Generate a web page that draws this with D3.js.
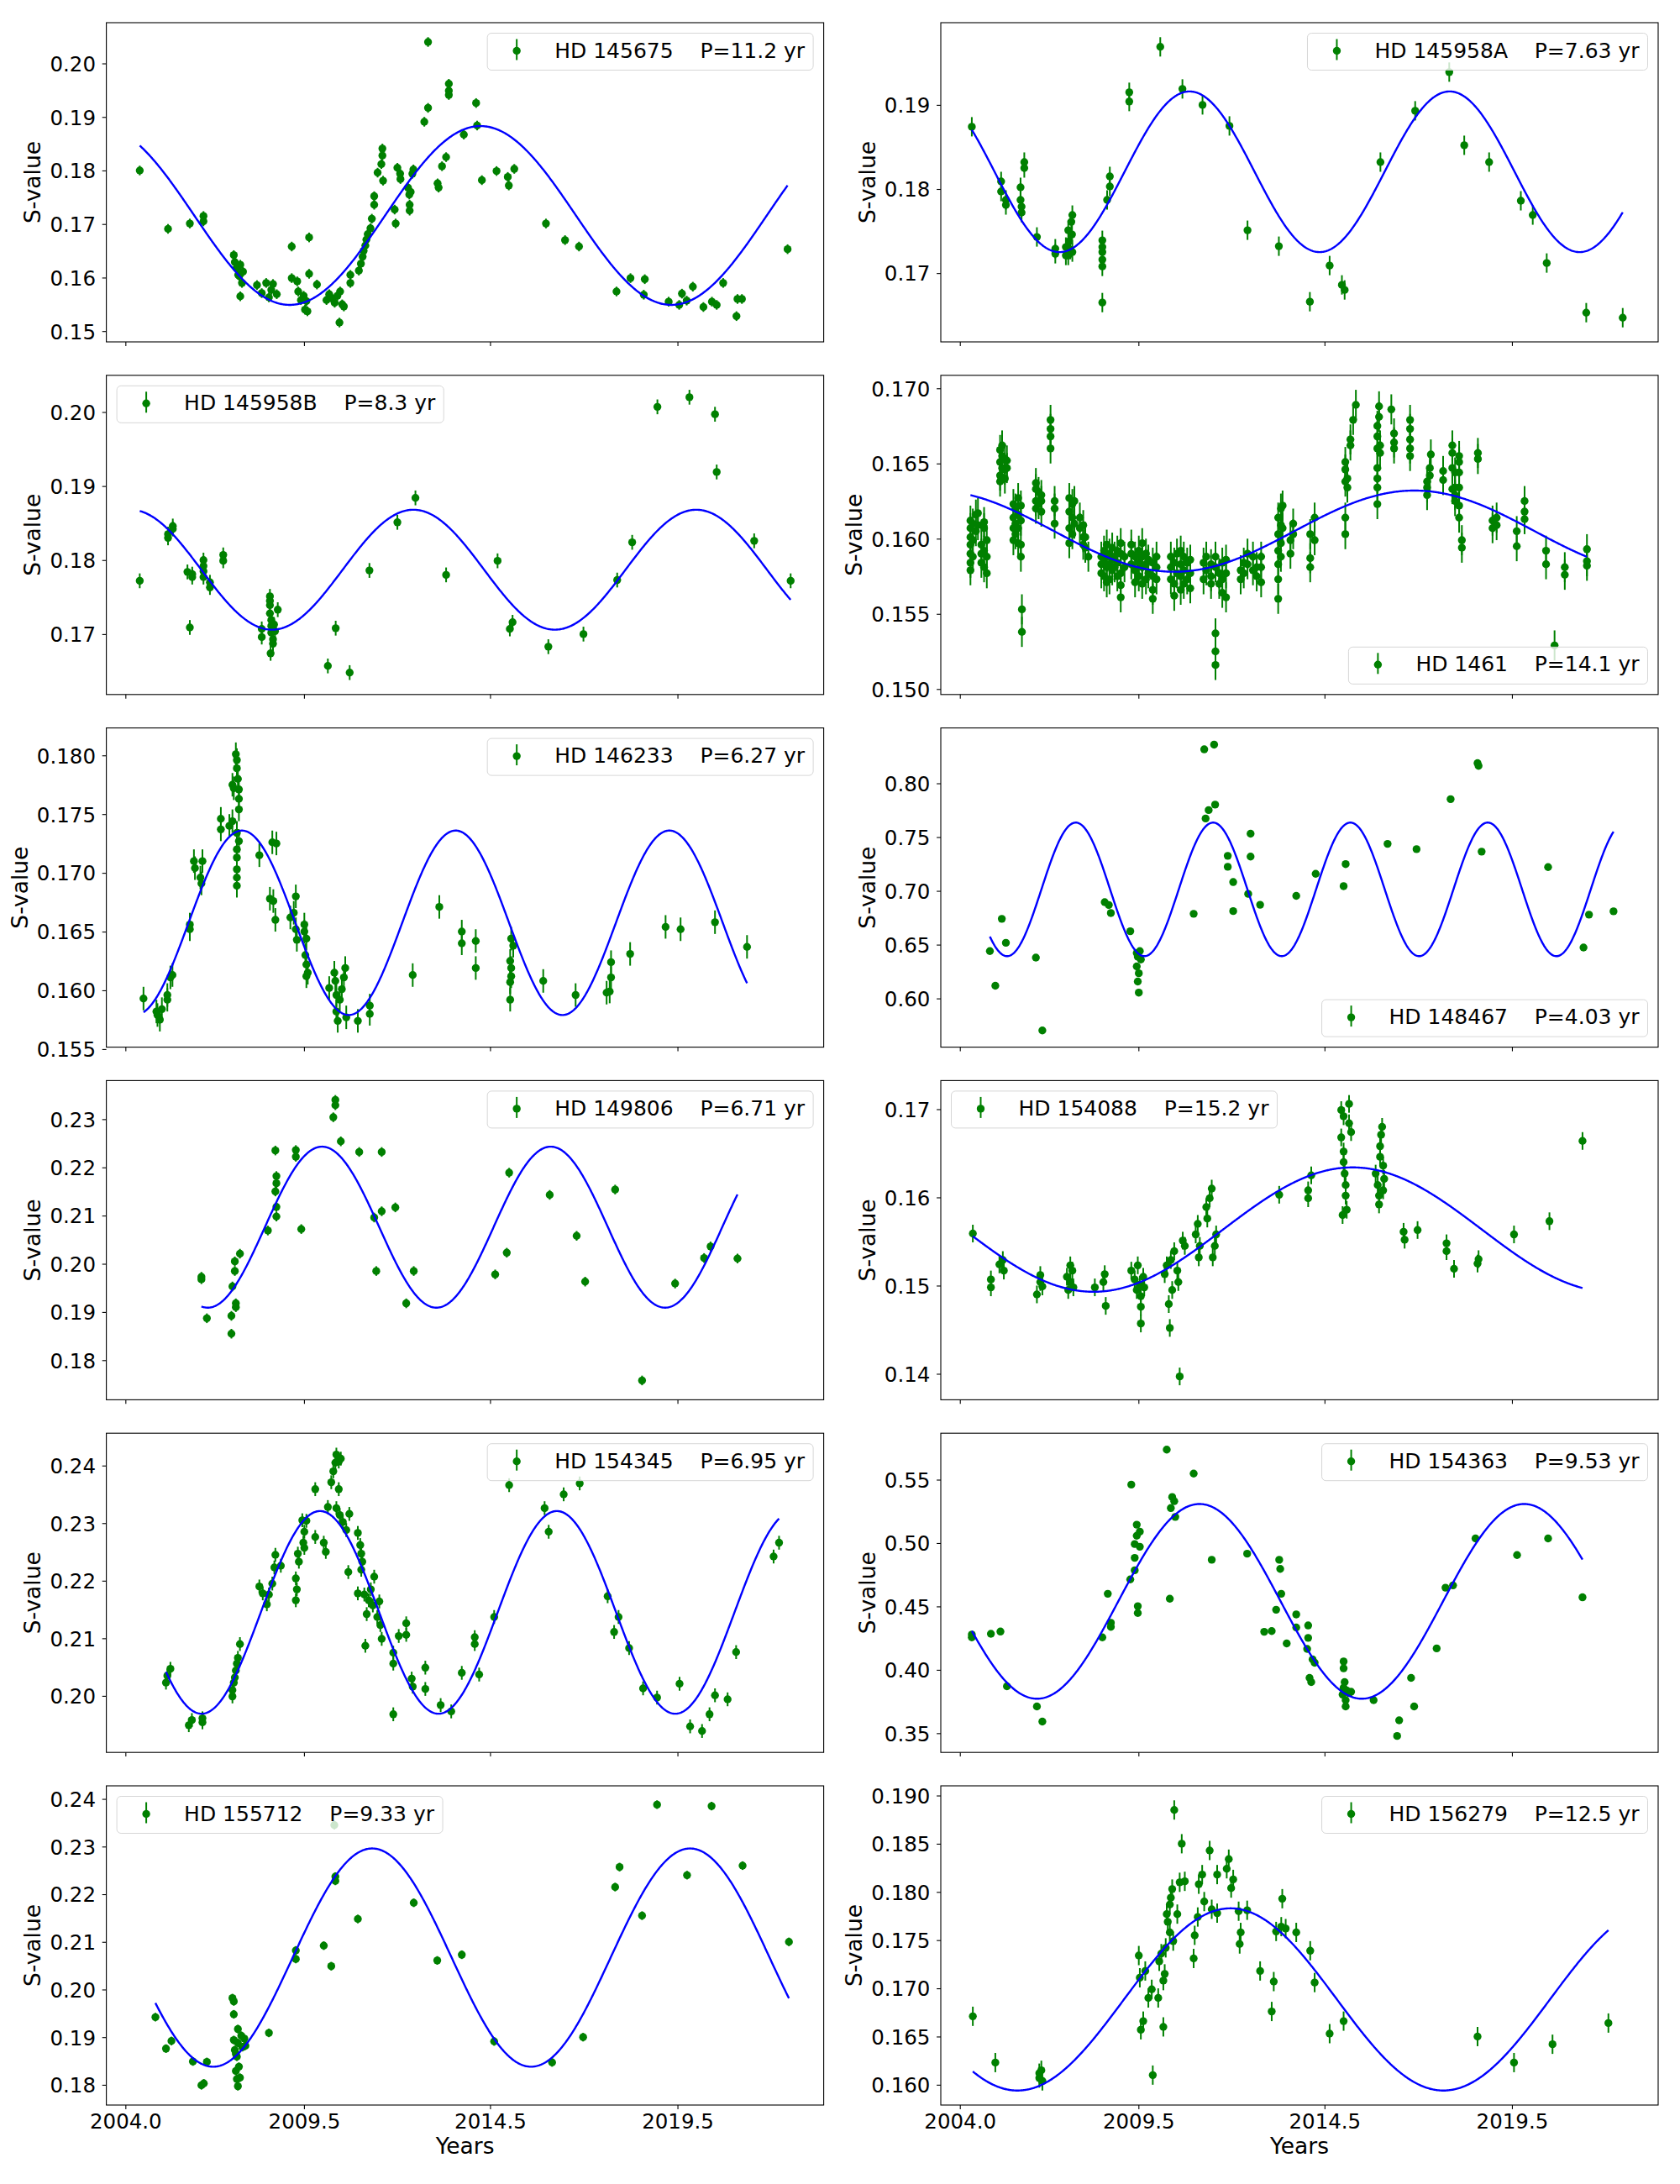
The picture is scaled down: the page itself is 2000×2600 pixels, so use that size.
<!DOCTYPE html>
<html>
<head>
<meta charset="utf-8">
<script src="https://cdn.jsdelivr.net/npm/d3@7"></script>
<style>
  body { margin: 0; background: #fff; }
  text { font-family: "DejaVu Sans", sans-serif; }
</style>
</head>
<body>
<div id="chart"></div>
<script>
// ---- data ----
const stars = ["HD 145675", "HD 145958A", "HD 145958B", "HD 1461", "HD 146233", "HD 148467",
               "HD 149806", "HD 154088", "HD 154345", "HD 154363", "HD 155712", "HD 156279"];
const periods = ["11.2", "7.63", "8.3", "14.1", "6.27", "4.03", "6.71", "15.2", "6.95", "9.53", "9.33", "12.5"];
// sine fit: mean level, semi-amplitude, epoch of maximum
const fitMean = [0.1716, 0.18205, 0.1787, 0.1605, 0.16575, 0.7014, 0.2076, 0.15635, 0.2145, 0.454, 0.2067, 0.16885];
const fitAmp = [0.0167, 0.00955, 0.0081, 0.0027, 0.00785, 0.0621, 0.0167, 0.00705, 0.0176, 0.0768, 0.0229, 0.00945];
const fitPeak = [2014.68, 2011.0, 2012.71, 2017.6, 2013.95, 2015.72, 2016.74, 2015.78, 2016.92, 2011.29, 2011.5, 2012.2];
const sErr = [0.0009, 0.00115, 0.001, 0.001, 0.001, 0.002, 0.001, 0.001, 0.0012, 0.0015, 0.0009, 0.001];
const legendLoc = ["upper right", "upper right", "upper left", "lower right", "upper right", "lower right",
                   "upper right", "upper left", "upper right", "upper right", "upper left", "upper right"];
const yTicks = [
  ["0.15", "0.16", "0.17", "0.18", "0.19", "0.20"],
  ["0.17", "0.18", "0.19"],
  ["0.17", "0.18", "0.19", "0.20"],
  ["0.150", "0.155", "0.160", "0.165", "0.170"],
  ["0.155", "0.160", "0.165", "0.170", "0.175", "0.180"],
  ["0.60", "0.65", "0.70", "0.75", "0.80"],
  ["0.18", "0.19", "0.20", "0.21", "0.22", "0.23"],
  ["0.14", "0.15", "0.16", "0.17"],
  ["0.20", "0.21", "0.22", "0.23", "0.24"],
  ["0.35", "0.40", "0.45", "0.50", "0.55"],
  ["0.18", "0.19", "0.20", "0.21", "0.22", "0.23", "0.24"],
  ["0.160", "0.165", "0.170", "0.175", "0.180", "0.185", "0.190"]
];
const xTickYears = [2004.26, 2009.5, 2014.96, 2020.46];
const xTickLabels = ["2004.0", "2009.5", "2014.5", "2019.5"];
const xLimits = [2003.7, 2024.75];

// [year, S-value]
const hd145675 = [[2004.68,.1800],[2005.51,.1691],[2006.15,.1701],[2006.55,.1715],[2006.55,.1705],[2007.44,.1642],
  [2007.47,.1629],[2007.52,.1618],[2007.57,.1605],[2007.63,.1624],[2007.68,.1590],[2007.63,.1565],[2007.60,.1603],
  [2007.71,.1611],[2008.12,.1586],[2008.26,.1571],[2008.39,.1590],[2008.47,.1563],[2008.59,.1588],[2008.70,.1569],
  [2008.54,.1577],[2009.14,.1658],[2009.14,.1599],[2009.30,.1593],[2009.33,.1574],[2009.41,.1558],[2009.49,.1566],
  [2009.53,.1540],[2009.60,.1537],[2009.57,.1556],[2009.65,.1675],[2009.65,.1607],[2009.88,.1587],[2010.16,.1558],
  [2010.24,.1569],[2010.32,.1561],[2010.40,.1553],[2010.48,.1566],[2010.56,.1574],[2010.62,.1550],[2010.67,.1546],
  [2010.54,.1516],[2010.86,.1605],[2010.86,.1590],[2011.11,.1613],[2011.17,.1626],[2011.22,.1639],[2011.25,.1650],
  [2011.30,.1660],[2011.33,.1671],[2011.37,.1681],[2011.45,.1692],[2011.49,.1710],[2011.56,.1736],[2011.56,.1752],
  [2011.66,.1796],[2011.77,.1812],[2011.80,.1828],[2011.80,.1841],[2011.82,.1781],[2012.16,.1727],[2012.19,.1701],
  [2012.24,.1805],[2012.32,.1794],[2012.33,.1784],[2012.55,.1768],[2012.59,.1755],[2012.60,.1736],[2012.60,.1725],
  [2012.63,.1760],[2012.68,.1794],[2012.71,.1802],[2013.03,.1891],[2013.14,.1917],[2013.14,.2040],[2013.42,.1776],
  [2013.45,.1768],[2013.55,.1808],[2013.67,.1825],[2013.75,.1962],[2013.75,.1949],[2013.75,.1941],[2014.19,.1867],
  [2014.55,.1926],[2014.58,.1884],[2014.72,.1782],[2015.15,.1799],[2015.48,.1788],[2015.51,.1772],[2015.67,.1803],
  [2016.60,.1701],[2017.16,.1670],[2017.57,.1658],[2018.67,.1574],[2019.08,.1599],[2019.47,.1568],[2019.50,.1597],
  [2020.20,.1555],[2020.51,.1549],[2020.59,.1570],[2020.73,.1557],[2020.91,.1583],[2021.22,.1545],[2021.47,.1555],
  [2021.61,.1549],[2021.80,.1590],[2022.19,.1528],[2022.22,.1560],[2022.35,.1560],[2023.69,.1653]];

const hd145958A = [[2004.61,.1874],[2005.47,.1809],[2005.47,.1797],[2005.61,.1787],[2005.61,.1781],[2006.04,.1802],
  [2006.04,.1787],[2006.07,.1779],[2006.07,.1772],[2006.15,.1832],[2006.15,.1825],[2006.52,.1743],[2007.06,.1729],
  [2007.06,.1723],[2007.37,.1731],[2007.37,.1721],[2007.44,.1751],[2007.47,.1738],[2007.50,.1728],[2007.53,.1761],
  [2007.55,.1746],[2007.56,.1769],[2007.56,.1725],[2007.44,.1721],[2008.44,.1739],[2008.44,.1731],[2008.44,.1725],
  [2008.44,.1716],[2008.44,.1708],[2008.44,.1665],[2008.58,.1787],[2008.66,.1815],[2008.66,.1803],[2009.23,.1915],
  [2009.23,.1904],[2010.14,.1969],[2010.79,.1919],[2011.38,.1900],[2012.17,.1875],[2012.70,.1751],[2013.62,.1732],
  [2014.53,.1666],[2015.11,.1709],[2015.47,.1686],[2015.55,.1680],[2016.60,.1832],[2017.62,.1893],[2018.62,.1939],
  [2019.06,.1852],[2019.79,.1832],[2020.72,.1786],[2021.07,.1769],[2021.48,.1712],[2022.64,.1653],[2023.71,.1647]];

const hd145958B = [[2004.68,.1772],[2005.51,.1835],[2005.51,.1830],[2005.65,.1846],[2005.65,.1842],[2006.08,.1784],
  [2006.15,.1709],[2006.22,.1781],[2006.22,.1777],[2006.55,.1800],[2006.55,.1792],[2006.55,.1785],[2006.55,.1777],
  [2006.74,.1770],[2006.74,.1763],[2007.13,.1807],[2007.13,.1799],[2008.26,.1707],[2008.26,.1696],[2008.50,.1751],
  [2008.50,.1745],[2008.50,.1739],[2008.50,.1728],[2008.52,.1674],[2008.54,.1719],[2008.54,.1711],[2008.54,.1702],
  [2008.59,.1693],[2008.59,.1687],[2008.62,.1713],[2008.65,.1704],[2008.73,.1733],[2010.20,.1657],[2010.43,.1708],
  [2010.84,.1648],[2011.42,.1786],[2012.24,.1851],[2012.77,.1884],[2013.67,.1780],[2015.18,.1799],[2015.54,.1707],
  [2015.62,.1716],[2016.67,.1683],[2017.70,.1700],[2018.69,.1773],[2019.13,.1824],[2019.87,.2007],[2020.81,.2020],
  [2021.56,.1997],[2021.61,.1919],[2022.71,.1826],[2023.78,.1772]];

const hd1461 = [
  [2004.57,.1612],[2004.57,.1607],[2004.57,.1601],[2004.57,.1596],[2004.57,.1590],[2004.57,.1584],[2004.57,.1579],
  [2004.64,.1610],[2004.64,.1599],[2004.64,.1588],[2004.73,.1616],[2004.73,.1605],[2004.79,.1617],[2004.79,.1609],
  [2004.89,.1596],[2004.89,.1590],[2004.89,.1584],[2004.97,.1611],[2004.97,.1607],[2004.97,.1592],[2004.97,.1581],
  [2005.05,.1599],[2005.05,.1588],[2005.05,.1577],
  [2005.44,.1659],[2005.44,.1651],[2005.44,.1642],[2005.44,.1638],[2005.50,.1662],[2005.50,.1655],[2005.50,.1647],
  [2005.58,.1653],[2005.58,.1646],[2005.58,.1640],[2005.64,.1652],[2005.64,.1647],
  [2005.83,.1623],[2005.83,.1614],[2005.83,.1607],[2005.83,.1599],[2005.89,.1620],[2005.89,.1610],[2005.89,.1603],
  [2005.97,.1627],[2005.97,.1616],[2005.97,.1607],[2005.97,.1597],[2006.05,.1622],[2006.05,.1612],[2006.05,.1596],
  [2006.05,.1588],[2006.08,.1553],[2006.08,.1538],
  [2006.49,.1637],[2006.49,.1633],[2006.49,.1625],[2006.49,.1620],[2006.57,.1631],[2006.57,.1623],[2006.65,.1629],
  [2006.65,.1625],[2006.65,.1618],[2006.92,.1679],[2006.92,.1673],[2006.92,.1668],[2006.92,.1660],[2007.04,.1625],
  [2007.04,.1620],[2007.04,.1610],
  [2007.47,.1627],[2007.47,.1618],[2007.47,.1607],[2007.47,.1597],[2007.56,.1623],[2007.56,.1614],[2007.56,.1603],
  [2007.62,.1625],[2007.62,.1610],[2007.78,.1614],[2007.78,.1607],[2007.88,.1609],[2007.88,.1601],[2007.88,.1596],
  [2007.94,.1601],[2007.94,.1594],[2008.03,.1588],
  [2008.41,.1588],[2008.41,.1583],[2008.41,.1577],[2008.49,.1592],[2008.49,.1584],[2008.49,.1575],[2008.57,.1596],
  [2008.57,.1588],[2008.57,.1581],[2008.57,.1571],[2008.65,.1590],[2008.65,.1583],[2008.65,.1573],[2008.73,.1594],
  [2008.73,.1586],[2008.73,.1579],[2008.80,.1588],[2008.80,.1581],[2008.88,.1592],[2008.88,.1584],[2008.88,.1575],
  [2008.98,.1597],[2008.98,.1590],[2008.98,.1577],[2008.98,.1569],[2008.98,.1561],[2009.09,.1588],[2009.09,.1581],
  [2009.29,.1596],[2009.29,.1590],[2009.29,.1583],[2009.40,.1588],[2009.40,.1579],[2009.40,.1571],[2009.51,.1592],
  [2009.51,.1584],[2009.51,.1575],[2009.61,.1597],[2009.61,.1588],[2009.61,.1581],[2009.61,.1570],[2009.72,.1590],
  [2009.72,.1583],[2009.72,.1573],[2009.79,.1586],[2009.79,.1577],[2009.92,.1584],[2009.92,.1575],[2009.92,.1566],
  [2009.92,.1560],[2010.03,.1588],[2010.03,.1581],[2010.03,.1573],
  [2010.45,.1588],[2010.45,.1581],[2010.45,.1573],[2010.55,.1584],[2010.55,.1570],[2010.55,.1562],[2010.63,.1590],
  [2010.63,.1577],[2010.74,.1592],[2010.74,.1583],[2010.74,.1575],[2010.74,.1566],[2010.83,.1588],[2010.83,.1579],
  [2010.83,.1570],[2010.93,.1584],[2010.93,.1573],[2011.02,.1586],[2011.02,.1577],[2011.02,.1567],
  [2011.41,.1584],[2011.41,.1573],[2011.49,.1588],[2011.49,.1579],[2011.63,.1583],[2011.63,.1575],[2011.63,.1570],
  [2011.76,.1588],[2011.76,.1581],[2011.76,.1537],[2011.76,.1525],[2011.76,.1516],[2011.87,.1577],[2011.87,.1570],
  [2011.96,.1584],[2011.96,.1573],[2011.96,.1564],[2012.07,.1586],[2012.07,.1577],[2012.07,.1561],
  [2012.50,.1579],[2012.50,.1573],[2012.59,.1584],[2012.59,.1577],[2012.70,.1590],[2012.70,.1583],[2012.86,.1588],
  [2012.86,.1579],[2012.97,.1581],[2012.97,.1575],[2013.10,.1588],[2013.10,.1581],[2013.10,.1571],
  [2013.60,.1614],[2013.60,.1603],[2013.60,.1592],[2013.60,.1583],[2013.60,.1573],[2013.60,.1560],[2013.68,.1620],
  [2013.68,.1609],[2013.68,.1597],[2013.68,.1588],[2013.73,.1622],[2013.73,.1607],[2013.96,.1599],[2013.96,.1590],
  [2014.04,.1610],[2014.04,.1603],[2014.54,.1603],[2014.54,.1587],[2014.54,.1581],[2014.67,.1614],[2014.67,.1599],
  [2015.57,.1651],[2015.57,.1646],[2015.57,.1638],[2015.57,.1614],[2015.57,.1603],[2015.63,.1640],[2015.63,.1634],
  [2015.72,.1666],[2015.72,.1662],[2015.80,.1679],[2015.88,.1689],
  [2016.51,.1675],[2016.51,.1668],[2016.51,.1660],[2016.51,.1647],[2016.51,.1640],[2016.51,.1634],[2016.51,.1623],
  [2016.56,.1688],[2016.56,.1681],[2016.59,.1662],[2016.59,.1657],[2016.92,.1686],[2017.00,.1670],[2017.00,.1664],
  [2017.00,.1660],[2017.47,.1679],[2017.47,.1673],[2017.47,.1666],[2017.47,.1660],[2017.47,.1655],[2017.97,.1638],
  [2017.97,.1634],[2017.97,.1629],[2018.05,.1647],[2018.05,.1642],[2018.08,.1656],[2018.44,.1645],[2018.44,.1639],
  [2018.71,.1662],[2018.71,.1657],[2018.71,.1647],[2018.71,.1633],[2018.79,.1644],[2018.79,.1634],[2018.79,.1629],
  [2018.79,.1625],[2018.91,.1655],[2018.91,.1651],[2018.91,.1644],[2018.91,.1634],[2018.91,.1622],[2018.91,.1614],
  [2018.99,.1599],[2018.99,.1594],[2019.46,.1657],[2019.46,.1653],[2019.89,.1612],[2019.89,.1607],[2020.01,.1614],
  [2020.01,.1609],[2020.60,.1605],[2020.60,.1595],[2020.83,.1625],[2020.83,.1618],[2020.83,.1613],[2021.46,.1592],
  [2021.46,.1583],[2021.71,.1529],[2022.01,.1581],[2022.01,.1576],[2022.66,.1593],[2022.66,.1585],[2022.66,.1582]];

const hd146233 = [[2004.79,.1593],[2005.17,.1582],[2005.20,.1579],[2005.27,.1575],[2005.33,.1584],[2005.49,.1596],
  [2005.49,.1592],[2005.58,.1611],[2005.64,.1613],[2006.15,.1656],[2006.15,.1652],[2006.27,.1710],[2006.30,.1704],
  [2006.46,.1696],[2006.49,.1691],[2006.52,.1710],[2007.06,.1746],[2007.06,.1737],[2007.31,.1740],[2007.40,.1775],
  [2007.40,.1744],[2007.44,.1772],[2007.50,.1801],[2007.53,.1796],[2007.53,.1789],[2007.56,.1780],[2007.53,.1734],
  [2007.53,.1720],[2007.53,.1713],[2007.53,.1703],[2007.53,.1696],[2007.53,.1689],[2007.59,.1771],[2007.59,.1763],
  [2007.59,.1754],[2007.59,.1727],[2008.19,.1715],[2008.57,.1726],[2008.69,.1725],[2008.50,.1678],[2008.60,.1676],
  [2008.66,.1660],[2009.10,.1662],[2009.20,.1666],[2009.26,.1680],[2009.26,.1652],[2009.29,.1643],[2009.51,.1656],
  [2009.51,.1650],[2009.57,.1644],[2009.54,.1630],[2009.57,.1622],[2009.61,.1615],[2009.57,.1612],[2010.24,.1602],
  [2010.39,.1615],[2010.42,.1608],[2010.45,.1596],[2010.45,.1582],[2010.49,.1574],[2010.55,.1592],[2010.61,.1601],
  [2010.67,.1611],[2010.71,.1619],[2010.74,.1577],[2011.08,.1574],[2011.43,.1587],[2011.43,.1580],[2012.69,.1613],
  [2013.47,.1671],[2014.13,.1650],[2014.13,.1640],[2014.54,.1642],[2014.54,.1619],[2015.58,.1644],[2015.64,.1638],
  [2015.55,.1625],[2015.58,.1619],[2015.58,.1612],[2015.55,.1607],[2015.55,.1592],[2016.52,.1608],[2017.47,.1596],
  [2018.38,.1598],[2018.47,.1599],[2018.51,.1611],[2018.51,.1624],[2019.07,.1631],[2020.11,.1654],[2020.55,.1652],
  [2021.56,.1658],[2022.50,.1637]];

const hd148467 = [[2005.14,.6440],[2005.30,.6118],[2005.49,.6740],[2005.61,.6517],[2006.49,.6380],[2006.68,.5702],
  [2008.51,.6895],[2008.63,.6869],[2008.69,.6794],[2009.26,.6625],[2009.45,.6422],[2009.48,.6388],[2009.54,.6440],
  [2009.45,.6298],[2009.51,.6234],[2009.48,.6157],[2009.51,.6054],[2009.57,.6362],[2011.12,.6787],[2011.43,.8316],
  [2011.72,.8360],[2011.47,.7673],[2011.56,.7751],[2011.75,.7802],[2012.12,.7326],[2012.12,.7224],[2012.28,.7082],
  [2012.28,.6812],[2012.72,.6972],[2012.79,.7532],[2012.79,.7319],[2013.07,.6871],[2014.13,.6954],[2014.70,.7159],
  [2015.52,.7044],[2015.58,.7249],[2016.81,.7437],[2017.66,.7388],[2018.66,.7853],[2019.45,.8188],[2019.48,.8162],
  [2019.57,.7365],[2021.52,.7221],[2022.56,.6473],[2022.72,.6779],[2023.44,.6810]];

const hd149806 = [[2006.49,.1973],[2006.49,.1968],[2006.65,.1887],[2007.37,.1855],[2007.37,.1892],[2007.40,.1953],
  [2007.47,.1985],[2007.47,.2005],[2007.50,.1918],[2007.50,.1910],[2007.62,.2021],[2008.44,.2069],[2008.66,.2235],
  [2008.66,.2150],[2008.69,.2167],[2008.69,.2182],[2008.69,.2118],[2008.69,.2098],[2009.26,.2236],[2009.26,.2222],
  [2009.42,.2072],[2010.36,.2304],[2010.42,.2340],[2010.42,.2329],[2010.58,.2254],[2011.12,.2232],[2011.56,.2096],
  [2011.62,.1985],[2011.78,.2232],[2011.78,.2109],[2012.18,.2117],[2012.50,.1918],[2012.72,.1985],[2015.11,.1978],
  [2015.45,.2023],[2015.52,.2189],[2016.71,.2143],[2017.50,.2058],[2017.75,.1963],[2018.63,.2154],[2019.42,.1758],
  [2020.39,.1959],[2021.24,.2012],[2021.43,.2036],[2022.22,.2011]];

const hd154088 = [[2004.64,.1559],[2005.17,.1507],[2005.17,.1498],[2005.42,.1524],[2005.52,.1529],[2005.55,.1517],
  [2006.52,.1490],[2006.62,.1512],[2006.62,.1504],[2006.68,.1499],[2007.40,.1510],[2007.50,.1523],[2007.50,.1504],
  [2007.56,.1517],[2007.59,.1498],[2007.44,.1495],[2008.22,.1498],[2008.51,.1513],[2008.54,.1477],[2008.47,.1504],
  [2009.29,.1517],[2009.39,.1507],[2009.45,.1495],[2009.48,.1523],[2009.54,.1501],[2009.57,.1488],[2009.57,.1476],
  [2009.64,.1510],[2009.67,.1498],[2009.57,.1457],[2010.27,.1513],[2010.33,.1523],[2010.39,.1479],[2010.42,.1452],
  [2010.45,.1529],[2010.49,.1495],[2010.55,.1539],[2010.64,.1517],[2010.67,.1504],[2010.71,.1397],[2010.80,.1551],
  [2010.86,.1545],[2011.18,.1558],[2011.24,.1570],[2011.30,.1545],[2011.27,.1532],[2011.49,.1589],[2011.52,.1576],
  [2011.59,.1599],[2011.65,.1610],[2011.68,.1532],[2011.74,.1545],[2011.78,.1558],[2013.63,.1603],[2014.48,.1599],
  [2014.48,.1608],[2014.57,.1625],[2015.45,.1699],[2015.52,.1692],[2015.45,.1668],[2015.52,.1652],[2015.52,.1640],
  [2015.55,.1627],[2015.58,.1614],[2015.58,.1602],[2015.61,.1586],[2015.49,.1580],[2015.68,.1706],[2015.68,.1684],
  [2015.74,.1674],[2016.46,.1627],[2016.52,.1614],[2016.56,.1602],[2016.59,.1658],[2016.59,.1646],[2016.62,.1671],
  [2016.65,.1680],[2016.68,.1636],[2016.68,.1608],[2016.71,.1621],[2016.56,.1592],[2017.28,.1561],[2017.31,.1552],
  [2017.69,.1563],[2018.54,.1548],[2018.54,.1539],[2018.76,.1519],[2019.45,.1525],[2019.48,.1530],[2020.52,.1558],
  [2021.56,.1573],[2022.53,.1664]];

const hd154345 = [[2005.45,.2023],[2005.49,.2035],[2005.58,.2047],[2006.12,.1949],[2006.21,.1958],[2006.52,.1954],
  [2006.52,.1961],[2007.40,.2010],[2007.44,.2023],[2007.47,.2032],[2007.50,.2044],[2007.53,.2056],[2007.56,.2066],
  [2007.62,.2090],[2007.40,.1999],[2008.19,.2190],[2008.29,.2178],[2008.41,.2159],[2008.47,.2176],[2008.57,.2195],
  [2008.63,.2223],[2008.66,.2245],[2008.82,.2226],[2009.26,.2204],[2009.29,.2185],[2009.26,.2166],[2009.32,.2247],
  [2009.35,.2233],[2009.45,.2305],[2009.51,.2285],[2009.48,.2266],[2009.51,.2257],[2009.57,.2304],[2009.83,.2276],
  [2009.83,.2359],[2010.08,.2266],[2010.14,.2250],[2010.20,.2328],[2010.30,.2371],[2010.36,.2390],[2010.42,.2405],
  [2010.45,.2419],[2010.52,.2407],[2010.58,.2412],[2010.52,.2359],[2010.45,.2326],[2010.55,.2314],[2010.64,.2302],
  [2010.74,.2288],[2010.83,.2316],[2011.08,.2283],[2011.15,.2262],[2011.18,.2247],[2011.21,.2233],[2011.18,.2219],
  [2010.80,.2215],[2011.56,.2207],[2011.08,.2178],[2011.27,.2176],[2011.40,.2166],[2011.46,.2185],[2011.52,.2157],
  [2011.34,.2142],[2011.30,.2087],[2011.71,.2164],[2011.65,.2137],[2011.74,.2123],[2011.78,.2099],[2012.12,.2075],
  [2012.12,.2056],[2012.28,.2104],[2012.50,.2126],[2012.50,.2106],[2012.66,.2030],[2012.69,.2016],[2012.12,.1968],
  [2013.06,.2049],[2013.06,.2012],[2013.51,.1984],[2013.82,.1973],[2014.13,.2040],[2014.51,.2102],[2014.51,.2090],
  [2014.64,.2037],[2015.08,.2137],[2015.52,.2366],[2016.56,.2326],[2016.68,.2285],[2017.12,.2350],[2017.59,.2369],
  [2018.41,.2173],[2018.73,.2137],[2018.60,.2111],[2019.04,.2083],[2019.45,.2013],[2019.86,.1997],[2020.52,.2021],
  [2020.83,.1947],[2021.18,.1939],[2021.40,.1968],[2021.56,.2001],[2021.93,.1994],[2022.18,.2076],[2023.28,.2242],
  [2023.44,.2266]];

const hd154363 = [[2004.61,.4278],[2004.61,.4256],[2005.17,.4284],[2005.45,.4302],[2005.64,.3870],[2006.52,.3711],
  [2006.68,.3592],[2008.44,.4256],[2008.60,.4600],[2008.69,.4339],[2008.69,.4371],[2009.29,.5461],[2009.26,.4713],
  [2009.39,.4785],[2009.39,.4883],[2009.39,.4992],[2009.45,.5145],[2009.45,.5058],[2009.54,.5090],[2009.54,.4971],
  [2009.48,.4502],[2009.48,.4448],[2010.33,.5737],[2010.42,.4561],[2010.49,.5363],[2010.55,.5330],[2010.45,.5276],
  [2010.58,.5206],[2011.12,.5548],[2011.65,.4868],[2012.69,.4916],[2013.19,.4300],[2013.41,.4306],[2013.63,.4868],
  [2013.66,.4796],[2013.69,.4600],[2013.54,.4474],[2013.85,.4208],[2014.13,.4437],[2014.13,.4334],[2014.48,.4350],
  [2014.48,.4252],[2014.45,.4165],[2014.61,.4082],[2014.67,.4056],[2014.52,.3936],[2014.57,.3903],[2015.52,.4066],
  [2015.52,.4012],[2015.55,.3903],[2015.52,.3859],[2015.61,.3838],[2015.58,.3761],[2015.58,.3711],[2015.49,.3805],
  [2015.68,.3816],[2015.74,.3827],[2016.40,.3761],[2017.15,.3602],[2017.09,.3478],[2017.50,.3936],[2017.59,.3711],
  [2018.25,.4169],[2018.51,.4648],[2018.73,.4666],[2019.39,.5036],[2020.61,.4905],[2021.52,.5036],[2022.53,.4572]];

const hd155712 = [[2005.14,.1942],[2005.45,.1876],[2005.61,.1892],[2006.24,.1849],[2006.65,.1848],[2006.49,.1799],
  [2006.56,.1803],[2007.40,.1982],[2007.44,.1975],[2007.44,.1948],[2007.47,.1873],[2007.53,.1859],[2007.50,.1829],
  [2007.53,.1812],[2007.56,.1797],[2007.59,.1838],[2007.62,.1815],[2007.56,.1888],[2007.56,.1917],[2007.66,.1903],
  [2007.69,.1879],[2007.75,.1897],[2007.78,.1882],[2007.44,.1894],[2007.50,.1865],[2008.47,.1909],[2009.26,.2082],
  [2009.26,.2064],[2010.08,.2092],[2010.30,.2049],[2010.39,.2345],[2010.42,.2237],[2010.42,.2228],[2011.08,.2148],
  [2012.72,.2182],[2013.41,.2061],[2014.13,.2073],[2015.08,.1891],[2016.78,.1847],[2017.69,.1900],[2018.63,.2215],
  [2018.76,.2257],[2019.42,.2155],[2019.86,.2388],[2020.74,.2240],[2021.46,.2385],[2022.37,.2260],[2023.73,.2100]];

const hd156279 = [[2004.64,.1671],[2005.30,.1623],[2006.59,.1612],[2006.59,.1607],[2006.65,.1615],[2006.68,.1604],
  [2009.51,.1734],[2009.54,.1711],[2009.57,.1657],[2009.64,.1666],[2009.70,.1718],[2009.79,.1690],[2009.89,.1699],
  [2009.92,.1610],[2010.08,.1690],[2010.11,.1728],[2010.17,.1736],[2010.23,.1708],[2010.23,.1660],[2010.27,.1715],
  [2010.30,.1742],[2010.33,.1777],[2010.36,.1769],[2010.42,.1758],[2010.42,.1787],[2010.45,.1794],[2010.49,.1803],
  [2010.52,.1749],[2010.55,.1885],[2010.64,.1777],[2010.71,.1810],[2010.77,.1850],[2010.86,.1811],[2011.12,.1731],
  [2011.15,.1755],[2011.24,.1774],[2011.27,.1808],[2011.37,.1818],[2011.43,.1790],[2011.59,.1843],[2011.65,.1782],
  [2011.81,.1818],[2011.81,.1778],[2012.09,.1824],[2012.15,.1834],[2012.22,.1804],[2012.28,.1813],[2012.44,.1780],
  [2012.50,.1758],[2012.47,.1746],[2012.69,.1781],[2013.07,.1718],[2013.41,.1676],[2013.47,.1707],[2013.54,.1759],
  [2013.69,.1764],[2013.72,.1793],[2013.82,.1762],[2014.13,.1758],[2014.54,.1739],[2014.67,.1706],[2015.11,.1653],
  [2015.52,.1666],[2019.45,.1650],[2020.52,.1623],[2021.65,.1642],[2023.29,.1664]];

const series = [hd145675, hd145958A, hd145958B, hd1461, hd146233, hd148467,
                hd149806, hd154088, hd154345, hd154363, hd155712, hd156279];

// ---- layout ----
const W = 854, H = 380;
const colLeft = [126.6, 1120];
const rowTop = 27, rowStep = 419.8;
const green = "#008000", blue = "#0000ff";
const tickFont = 24.5, labelFont = 26.5, legendFont = 25;

const svg = d3.select("#chart").append("svg")
    .attr("width", 2000)
    .attr("height", 2600)
    .style("background", "#fff");

const x = d3.scaleLinear().domain(xLimits).range([0, W]);

stars.forEach((name, i) => {
    const col = i % 2, row = Math.floor(i / 2);
    const g = svg.append("g")
        .attr("transform", `translate(${colLeft[col]},${rowTop + row * rowStep})`);

    const data = series[i];
    const err = sErr[i];
    const P = +periods[i];
    const [t0, t1] = d3.extent(data, d => d[0]);

    // sampled sine fit between the first and last epoch
    const fit = d3.range(0, 801).map(k => {
        const t = t0 + (t1 - t0) * k / 800;
        return [t, fitMean[i] + fitAmp[i] * Math.cos(2 * Math.PI * (t - fitPeak[i]) / P)];
    });

    const lo = Math.min(d3.min(data, d => d[1] - err), d3.min(fit, d => d[1]));
    const hi = Math.max(d3.max(data, d => d[1] + err), d3.max(fit, d => d[1]));
    const pad = (hi - lo) * 0.05;
    const y = d3.scaleLinear().domain([lo - pad, hi + pad]).range([H, 0]);

    // error bars + points
    g.append("g").selectAll("line")
        .data(data)
        .enter().append("line")
        .attr("x1", d => x(d[0]))
        .attr("x2", d => x(d[0]))
        .attr("y1", d => y(d[1] - err))
        .attr("y2", d => y(d[1] + err))
        .attr("stroke", green)
        .attr("stroke-width", 2);

    g.append("g").selectAll("circle")
        .data(data)
        .enter().append("circle")
        .attr("cx", d => x(d[0]))
        .attr("cy", d => y(d[1]))
        .attr("r", 4.7)
        .attr("fill", green);

    // fit curve
    g.append("path")
        .datum(fit)
        .attr("fill", "none")
        .attr("stroke", blue)
        .attr("stroke-width", 2.4)
        .attr("d", d3.line().x(d => x(d[0])).y(d => y(d[1])));

    // axes
    const yAxis = g.append("g")
        .call(d3.axisLeft(y)
            .tickValues(yTicks[i].map(Number))
            .tickFormat((d, k) => yTicks[i][k])
            .tickSize(4.9)
            .tickPadding(7.7));
    yAxis.select(".domain").remove();
    yAxis.attr("font-size", tickFont).attr("font-family", "DejaVu Sans");
    yAxis.selectAll("line").attr("stroke", "#000").attr("stroke-width", 1.1);
    yAxis.selectAll("text").attr("fill", "#000").attr("dy", "0.36em");

    const xAxis = g.append("g")
        .attr("transform", `translate(0,${H})`)
        .call(d3.axisBottom(x)
            .tickValues(xTickYears)
            .tickFormat((d, k) => row === 5 ? xTickLabels[k] : "")
            .tickSize(4.9)
            .tickPadding(5.7));
    xAxis.select(".domain").remove();
    xAxis.attr("font-size", tickFont).attr("font-family", "DejaVu Sans");
    xAxis.selectAll("line").attr("stroke", "#000").attr("stroke-width", 1.1);
    xAxis.selectAll("text").attr("fill", "#000");

    // frame
    g.append("rect")
        .attr("width", W)
        .attr("height", H)
        .attr("fill", "none")
        .attr("stroke", "#000")
        .attr("stroke-width", 1.1);

    // y label, placed left of the tick labels
    const bb = yAxis.node().getBBox();
    g.append("text")
        .attr("transform", `translate(${bb.x - 11},${H / 2}) rotate(-90)`)
        .attr("text-anchor", "middle")
        .attr("font-size", labelFont)
        .text("S-value");

    if (row === 5) {
        g.append("text")
            .attr("x", W / 2)
            .attr("y", H + 58)
            .attr("text-anchor", "middle")
            .attr("font-size", labelFont)
            .text("Years");
    }

    // legend
    const leg = g.append("g");
    const label = leg.append("text")
        .attr("font-size", legendFont)
        .style("white-space", "pre")
        .text(`${name}    P=${periods[i]} yr`);
    const tw = label.node().getComputedTextLength();
    const bw = tw + 90, bh = 44, gap = 12.5;
    const bx = legendLoc[i].includes("right") ? W - gap - bw : gap;
    const by = legendLoc[i].includes("lower") ? H - gap - bh : gap;
    leg.insert("rect", "text")
        .attr("x", bx).attr("y", by)
        .attr("width", bw).attr("height", bh)
        .attr("rx", 5)
        .attr("fill", "#fff").attr("fill-opacity", 0.8)
        .attr("stroke", "#cccccc").attr("stroke-opacity", 0.8);
    leg.append("line")
        .attr("x1", bx + 35).attr("x2", bx + 35)
        .attr("y1", by + 7).attr("y2", by + 32)
        .attr("stroke", green).attr("stroke-width", 2);
    leg.append("circle")
        .attr("cx", bx + 35).attr("cy", by + 21)
        .attr("r", 4.7)
        .attr("fill", green);
    label.attr("x", bx + 80).attr("y", by + 29);
});
</script>
</body>
</html>
